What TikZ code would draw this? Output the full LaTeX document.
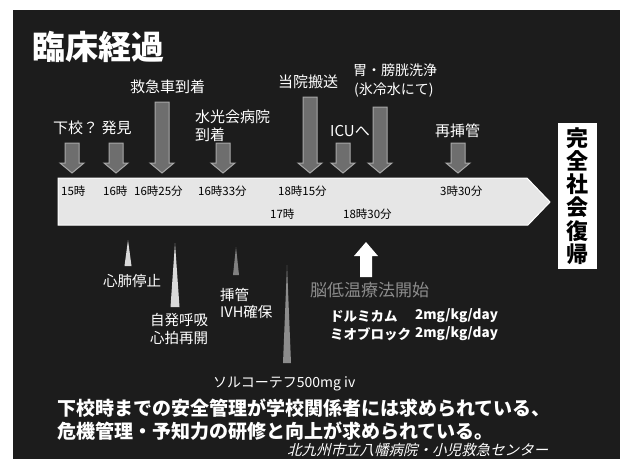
\documentclass[tikz,border=0pt]{standalone}
\usepackage{fontspec}
\setmainfont{Noto Sans CJK JP}
\newfontfamily\jpslant{Noto Sans CJK JP}[FakeSlant=0.25]
\newcommand\fsz[1]{\fontsize{#1pt}{#1pt}\selectfont}
\definecolor{bg}{HTML}{1C1C1C}
\definecolor{band}{HTML}{E6E6E6}
\definecolor{arrfill}{HTML}{6E6E6E}
\definecolor{arredge}{HTML}{A8A8A8}
\definecolor{dimtext}{HTML}{8C8C8C}
\newcommand\mydarr[3]{\draw[darrow] (#1-7,#2) -- (#1+7,#2) -- (#1+7,#3-10) -- (#1+12,#3-10) -- (#1,#3) -- (#1-12,#3-10) -- (#1-7,#3-10) -- cycle;}
\newcommand\myspike[5]{\fill[#5] (#1,#2) -- (#1+#4,#3) -- (#1-#4,#3) -- cycle;}
\tikzset{
  darrow/.style={fill=arrfill, draw=arredge, line width=1pt},
  toplabel/.style={anchor=west, text=white, inner sep=0pt, font=\fsz{15}},
  timelabel/.style={anchor=west, text=black, inner sep=0pt, font=\fsz{11.5}},
  lowlabel/.style={anchor=west, text=white, inner sep=0pt, font=\fsz{14.5}},
  boldline/.style={anchor=west, text=white, inner sep=0pt, font=\bfseries\fsz{19}},
}
\begin{document}
\begin{tikzpicture}[x=1pt,y=-1pt]
\useasboundingbox (0,0) rectangle (620,459);
\fill[white] (0,0) rectangle (620,459);
\fill[bg] (13,10) rectangle (620,459);
% title
\node[anchor=west, text=white, inner sep=0pt, font=\bfseries\fsz{33}] (title) at (32,47) {臨床経過};
% band
\draw[fill=band, draw=white, line width=1pt] (58,178) -- (527,178) -- (550,202) -- (528,225) -- (58,225) -- cycle;
% final box
\fill[white] (558,123) rectangle (597,269);
\node[text=black, inner sep=0pt, align=center, font=\bfseries\fsz{22}] (goal) at (577.5,196) {完\\[1.2pt]全\\[1.2pt]社\\[1.2pt]会\\[1.2pt]復\\[1.2pt]帰};
% down arrows
\mydarr{72}{143}{173}
\mydarr{116}{143}{173}
\mydarr{162}{102}{173}
\mydarr{223}{143}{173}
\mydarr{310}{97}{173}
\mydarr{343}{143}{173}
\mydarr{380}{107}{173}
\mydarr{458}{143}{173}
% top labels
\node[toplabel] (l1) at (53,128) {下校？ 発見};
\node[toplabel] (l2) at (130,87) {救急車到着};
\node[toplabel] (l3) at (195,117) {水光会病院};
\node[toplabel] (l3b) at (195,135) {到着};
\node[toplabel] (l4) at (278,82) {当院搬送};
\node[toplabel, font=\fsz{14}] (l5) at (353,70) {胃・膀胱洗浄};
\node[toplabel, font=\fsz{14}] (l5b) at (354,90) {(氷冷水にて)};
\node[toplabel] (l6) at (330,131) {ICUへ};
\node[toplabel] (l7) at (435,131) {再挿管};
% time labels
\node[timelabel] (t1) at (61,191) {15時};
\node[timelabel] (t2) at (103,191) {16時};
\node[timelabel] (t3) at (134,191) {16時25分};
\node[timelabel] (t4) at (198,191) {16時33分};
\node[timelabel] (t5) at (278,191) {18時15分};
\node[timelabel] (t6) at (440,191) {3時30分};
\node[timelabel] (t7) at (270,214) {17時};
\node[timelabel] (t8) at (343,214) {18時30分};
% spikes
\myspike{128}{240}{266}{3.5}{white!85!black}
\myspike{175}{243}{307}{4.5}{white!85!black}
\myspike{236}{247}{275}{3}{gray}
\myspike{287}{265}{363}{4}{white!55!black}
% up arrow
\fill[white] (360,277) -- (372,277) -- (372,256) -- (378,256) -- (366,242) -- (354,256) -- (360,256) -- cycle;
% lower labels
\node[lowlabel] (b1) at (103,281) {心肺停止};
\node[lowlabel] (b2) at (150,320) {自発呼吸};
\node[lowlabel] (b2b) at (150,338) {心拍再開};
\node[lowlabel] (b3) at (220,295) {挿管};
\node[lowlabel] (b3b) at (220,312) {IVH確保};
\node[lowlabel, font=\fsz{14}] (b4) at (213,384) {ソルコーテフ500mg iv};
\node[anchor=west, text=dimtext, inner sep=0pt, font=\fsz{17}] (b5) at (310,290) {脳低温療法開始};
\node[anchor=west, text=white, inner sep=0pt, font=\bfseries\fsz{13.5}] (d1) at (330,316) {ドルミカム};
\node[anchor=west, text=white, inner sep=0pt, font=\bfseries\fsz{13.5}] (d1b) at (415,316) {2mg/kg/day};
\node[anchor=west, text=white, inner sep=0pt, font=\bfseries\fsz{13.5}] (d2) at (330,334) {ミオブロック};
\node[anchor=west, text=white, inner sep=0pt, font=\bfseries\fsz{13.5}] (d2b) at (415,334) {2mg/kg/day};
% bottom message
\node[boldline] (m1) at (57,408) {下校時までの安全管理が学校関係者には求められている、};
\node[boldline] (m2) at (57,431) {危機管理・予知力の研修と向上が求められている。};
\node[anchor=west, text=white, inner sep=0pt, font=\jpslant\fsz{14.5}] (src) at (287,450) {北九州市立八幡病院・小児救急センター};
\end{tikzpicture}
\end{document}
